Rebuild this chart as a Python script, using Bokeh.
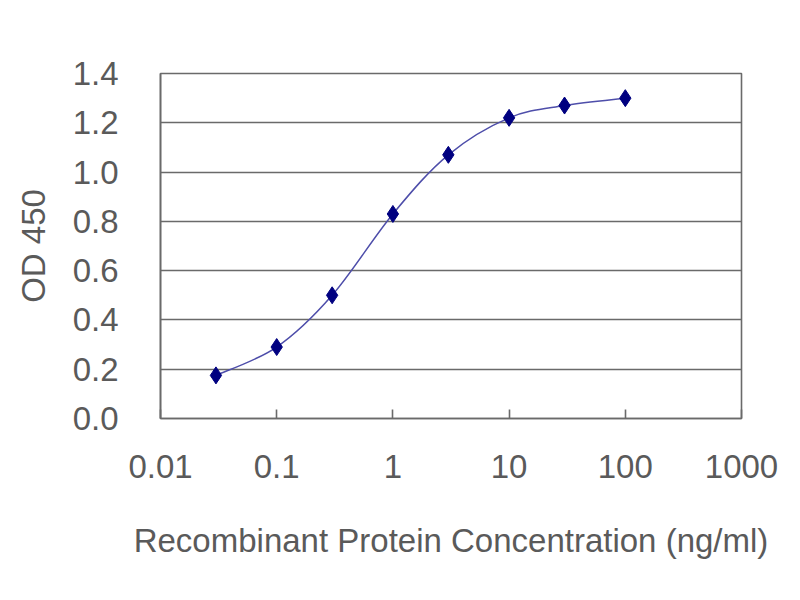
import numpy as np
from bokeh.plotting import figure
from bokeh.models import FixedTicker, PrintfTickFormatter, CustomJSTickFormatter, Range1d
from bokeh.embed import file_html
from bokeh.resources import INLINE

# ---- data ----
concentration = [0.03, 0.1, 0.3, 1, 3, 10, 30, 100]
od450 = [0.175, 0.29, 0.50, 0.83, 1.07, 1.22, 1.27, 1.30]
x_ticks = [0.01, 0.1, 1, 10, 100, 1000]
x_tick_labels = ["0.01", "0.1", "1", "10", "100", "1000"]
y_ticks = [0.0, 0.2, 0.4, 0.6, 0.8, 1.0, 1.2, 1.4]
y_tick_labels = ["0.0", "0.2", "0.4", "0.6", "0.8", "1.0", "1.2", "1.4"]
x_label = "Recombinant Protein Concentration (ng/ml)"
y_label = "OD 450"

TEXT = "#5a5a5a"
GRID = "#6a6a6a"
FONT = "Liberation Sans"

p = figure(width=784, height=584, x_axis_type="log",
           x_range=Range1d(0.01, 1000), y_range=Range1d(0, 1.4),
           output_backend="svg", toolbar_location=None,
           min_border_left=160, min_border_top=73,
           min_border_right=43, min_border_bottom=166)
p.background_fill_color = "white"
p.border_fill_color = "white"
p.outline_line_color = GRID
p.outline_line_width = 1.6

# smoothed connecting curve (Catmull-Rom style, computed in log-x space)
lx = np.log10(np.array(concentration, dtype=float))
yy = np.array(od450, dtype=float)
n = len(lx)
x0s, y0s, x1s, y1s, cx0s, cy0s, cx1s, cy1s = [], [], [], [], [], [], [], []
for i in range(n - 1):
    im1 = max(i - 1, 0)
    ip2 = min(i + 2, n - 1)
    c0x = lx[i] + (lx[i + 1] - lx[im1]) / 6.0
    c0y = yy[i] + (yy[i + 1] - yy[im1]) / 6.0
    c1x = lx[i + 1] - (lx[ip2] - lx[i]) / 6.0
    c1y = yy[i + 1] - (yy[ip2] - yy[i]) / 6.0
    x0s.append(10 ** lx[i]); y0s.append(yy[i])
    x1s.append(10 ** lx[i + 1]); y1s.append(yy[i + 1])
    cx0s.append(10 ** c0x); cy0s.append(c0y)
    cx1s.append(10 ** c1x); cy1s.append(c1y)
p.bezier(x0=x0s, y0=y0s, x1=x1s, y1=y1s, cx0=cx0s, cy0=cy0s, cx1=cx1s, cy1=cy1s,
         line_color="#4e4eaa", line_width=1.5)

p.scatter(concentration, od450, marker="diamond", size=17,
          fill_color="#000080", line_color="#000080")

# grid
p.xgrid.visible = False
p.ygrid.ticker = FixedTicker(ticks=y_ticks)
p.ygrid.grid_line_color = GRID
p.ygrid.grid_line_width = 1.6

# x axis
xa = p.xaxis[0]
xa.ticker = FixedTicker(ticks=x_ticks, minor_ticks=[])
xa.formatter = CustomJSTickFormatter(
    args=dict(vals=x_ticks, labs=x_tick_labels),
    code="""
    for (let i = 0; i < vals.length; i++) {
        if (Math.abs(Math.log10(tick) - Math.log10(vals[i])) < 1e-6) return labs[i];
    }
    return String(tick);
    """)
xa.major_tick_in = 9
xa.major_tick_out = 0
xa.minor_tick_in = 0
xa.minor_tick_out = 0
xa.major_tick_line_color = GRID
xa.major_tick_line_width = 1.6
xa.axis_line_color = GRID
xa.axis_line_width = 1.6
xa.major_label_standoff = 36
xa.major_label_text_font = FONT
xa.major_label_text_font_size = "33px"
xa.major_label_text_color = TEXT
xa.axis_label = x_label
xa.axis_label_text_font = FONT
xa.axis_label_text_font_size = "33px"
xa.axis_label_text_font_style = "normal"
xa.axis_label_text_color = TEXT
xa.axis_label_standoff = 41

# y axis
ya = p.yaxis[0]
ya.ticker = FixedTicker(ticks=y_ticks, minor_ticks=[])
ya.formatter = PrintfTickFormatter(format="%.1f")
ya.major_label_overrides = {t: l for t, l in zip(y_ticks, y_tick_labels)}
ya.major_tick_in = 0
ya.major_tick_out = 0
ya.minor_tick_in = 0
ya.minor_tick_out = 0
ya.axis_line_color = GRID
ya.axis_line_width = 1.6
ya.major_label_standoff = 42
ya.major_label_text_font = FONT
ya.major_label_text_font_size = "33px"
ya.major_label_text_color = TEXT
ya.axis_label = y_label
ya.axis_label_text_font = FONT
ya.axis_label_text_font_size = "33px"
ya.axis_label_text_font_style = "normal"
ya.axis_label_text_color = TEXT
ya.axis_label_standoff = 18

open("out.html", "w").write(file_html(p, INLINE))
